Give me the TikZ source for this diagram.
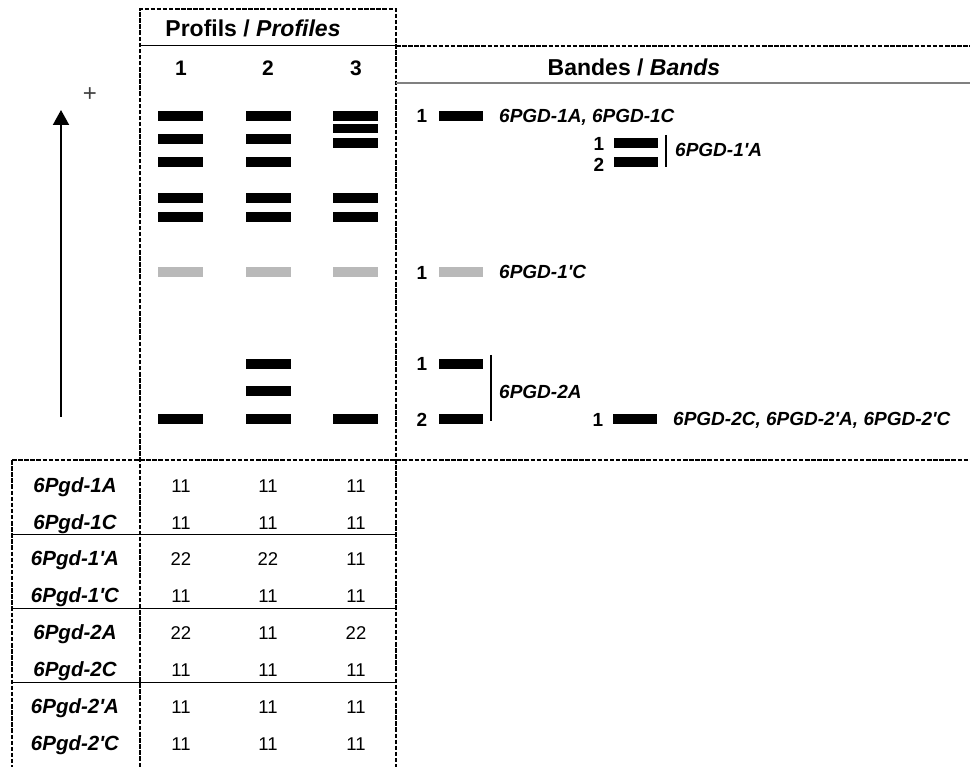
\documentclass[tikz,border=0pt]{standalone}
\usepackage{fontspec}
\setmainfont{Liberation Sans}[Ligatures=TeXOff]
\usetikzlibrary{arrows.meta}
\begin{document}
\begin{tikzpicture}[x=1pt,y=-1pt,
  dline/.style={line width=1.8pt, dash pattern=on 4.5pt off 1.6pt},
  sline/.style={line width=1pt},
  gline/.style={line width=1.2pt, draw=gray},
  bandbox/.style={fill=black, draw=none, minimum width=45pt, minimum height=10pt, inner sep=0pt},
  gbandbox/.style={fill=gray!55, draw=none, minimum width=45pt, minimum height=10pt, inner sep=0pt},
  hdr/.style={font=\fontsize{23}{25}\selectfont\bfseries, anchor=base, inner sep=0pt},
  lanenum/.style={font=\fontsize{21}{23}\selectfont\bfseries, anchor=base, inner sep=0pt},
  bnum/.style={font=\fontsize{19}{21}\selectfont\bfseries, anchor=base, inner sep=0pt},
  blbl/.style={font=\fontsize{19}{21}\selectfont\bfseries\itshape, anchor=base west, inner sep=0pt},
  rowlbl/.style={font=\fontsize{20.5}{22}\selectfont\bfseries\itshape, anchor=base, inner sep=0pt},
  cell/.style={font=\fontsize{18.5}{20}\selectfont, anchor=base, inner sep=0pt},
  bracket/.style={line width=2pt}
]
\useasboundingbox (0,0) rectangle (970,767);

% ---- frame lines ----
\coordinate (pTL) at (140,9);
\coordinate (pTR) at (396,9);
\coordinate (pBL) at (140,767);
\coordinate (pBR) at (396,767);
\coordinate (hL) at (140,46);
\coordinate (hM) at (396,46);
\coordinate (hR) at (970,46);
\coordinate (gL) at (396,83);
\coordinate (gR) at (970,83);
\coordinate (tL) at (12,460);
\coordinate (tR) at (970,460);
\coordinate (tBL) at (12,767);
\draw[dline] (pBL) -- (pTL) -- (pTR) -- (pBR);
\draw[sline] (hL) -- (hM);
\draw[dline] (hM) -- (hR);
\draw[gline] (gL) -- (gR);
\draw[dline] (tL) -- (tR);
\draw[dline] (tL) -- (tBL);
\foreach \yy in {534,608,682}{
  \coordinate (dA\yy) at (12,\yy);
  \coordinate (dB\yy) at (396,\yy);
  \draw[sline] (dA\yy) -- (dB\yy);
}

% ---- headers ----
\node[hdr] (profils) at (253,37) {Profils / \textit{Profiles}};
\node[lanenum] (n1) at (181,76) {1};
\node[lanenum] (n2) at (268,76) {2};
\node[lanenum] (n3) at (356,76) {3};
\node[hdr] (bandes) at (634,76) {Bandes / \textit{Bands}};

% ---- migration arrow ----
\coordinate (abot) at (61,417);
\coordinate (atop) at (61,110);
\draw[line width=2pt, -{Triangle[length=15pt,width=16pt]}] (abot) -- (atop);
\node[font=\fontsize{24}{26}\selectfont, text=black!75, inner sep=0pt] (plus) at (90,95) {+};

% ---- lanes ----
\foreach \xx/\ll in {180.5/a,268.5/b}{
  \foreach \yy in {116,139,162,198,217}{
    \node[bandbox] (band\ll\yy) at (\xx,\yy) {};
  }
}
\foreach \yy in {116,128.7,143,198,217}{
  \node[bandbox, minimum height=9.5pt] (bandc\yy) at (355.5,\yy) {};
}
\node[gbandbox] (gba) at (180.5,272) {};
\node[gbandbox] (gbb) at (268.5,272) {};
\node[gbandbox] (gbc) at (355.5,272) {};
\node[bandbox] (lowa) at (180.5,419) {};
\node[bandbox] (lowb1) at (268.5,364) {};
\node[bandbox] (lowb2) at (268.5,391) {};
\node[bandbox] (lowb3) at (268.5,419) {};
\node[bandbox] (lowc) at (355.5,419) {};

% ---- band legend ----
\node[bnum] (k1) at (422,123) {1};
\node[bandbox, minimum width=44pt] (kb1) at (461,116) {};
\node[blbl] (kt1) at (499,123) {6PGD-1A, 6PGD-1C};

\node[bnum] (k2a) at (599,151) {1};
\node[bnum] (k2b) at (599,172) {2};
\node[bandbox, minimum width=44pt] (kb2a) at (636,143) {};
\node[bandbox, minimum width=44pt] (kb2b) at (636,162) {};
\coordinate (br1t) at (666,135);
\coordinate (br1b) at (666,167);
\draw[bracket] (br1t) -- (br1b);
\node[blbl] (kt2) at (675,157) {6PGD-1'A};

\node[bnum] (k3) at (422,280) {1};
\node[gbandbox, minimum width=44pt] (kb3) at (461,272) {};
\node[blbl] (kt3) at (499,279) {6PGD-1'C};

\node[bnum] (k4a) at (422,371) {1};
\node[bnum] (k4b) at (422,427) {2};
\node[bandbox, minimum width=44pt] (kb4a) at (461,364) {};
\node[bandbox, minimum width=44pt] (kb4b) at (461,419) {};
\coordinate (br2t) at (491,355);
\coordinate (br2b) at (491,421);
\draw[bracket] (br2t) -- (br2b);
\node[blbl] (kt4) at (499,399) {6PGD-2A};

\node[bnum] (k5) at (598,427) {1};
\node[bandbox, minimum width=44pt] (kb5) at (635,419) {};
\node[blbl] (kt5) at (673,426) {6PGD-2C, 6PGD-2'A, 6PGD-2'C};

% ---- table ----
\foreach \bl/\name/\va/\vb/\vc [count=\i] in {
  492/6Pgd-1A/11/11/11,
  529/6Pgd-1C/11/11/11,
  565/6Pgd-1'A/22/22/11,
  602/6Pgd-1'C/11/11/11,
  639/6Pgd-2A/22/11/22,
  676/6Pgd-2C/11/11/11,
  713/6Pgd-2'A/11/11/11,
  750/6Pgd-2'C/11/11/11}{
  \node[rowlbl] (r\i) at (75,\bl) {\name};
  \node[cell] (r\i a) at (181,\bl) {\va};
  \node[cell] (r\i b) at (268,\bl) {\vb};
  \node[cell] (r\i c) at (356,\bl) {\vc};
}
\end{tikzpicture}
\end{document}
